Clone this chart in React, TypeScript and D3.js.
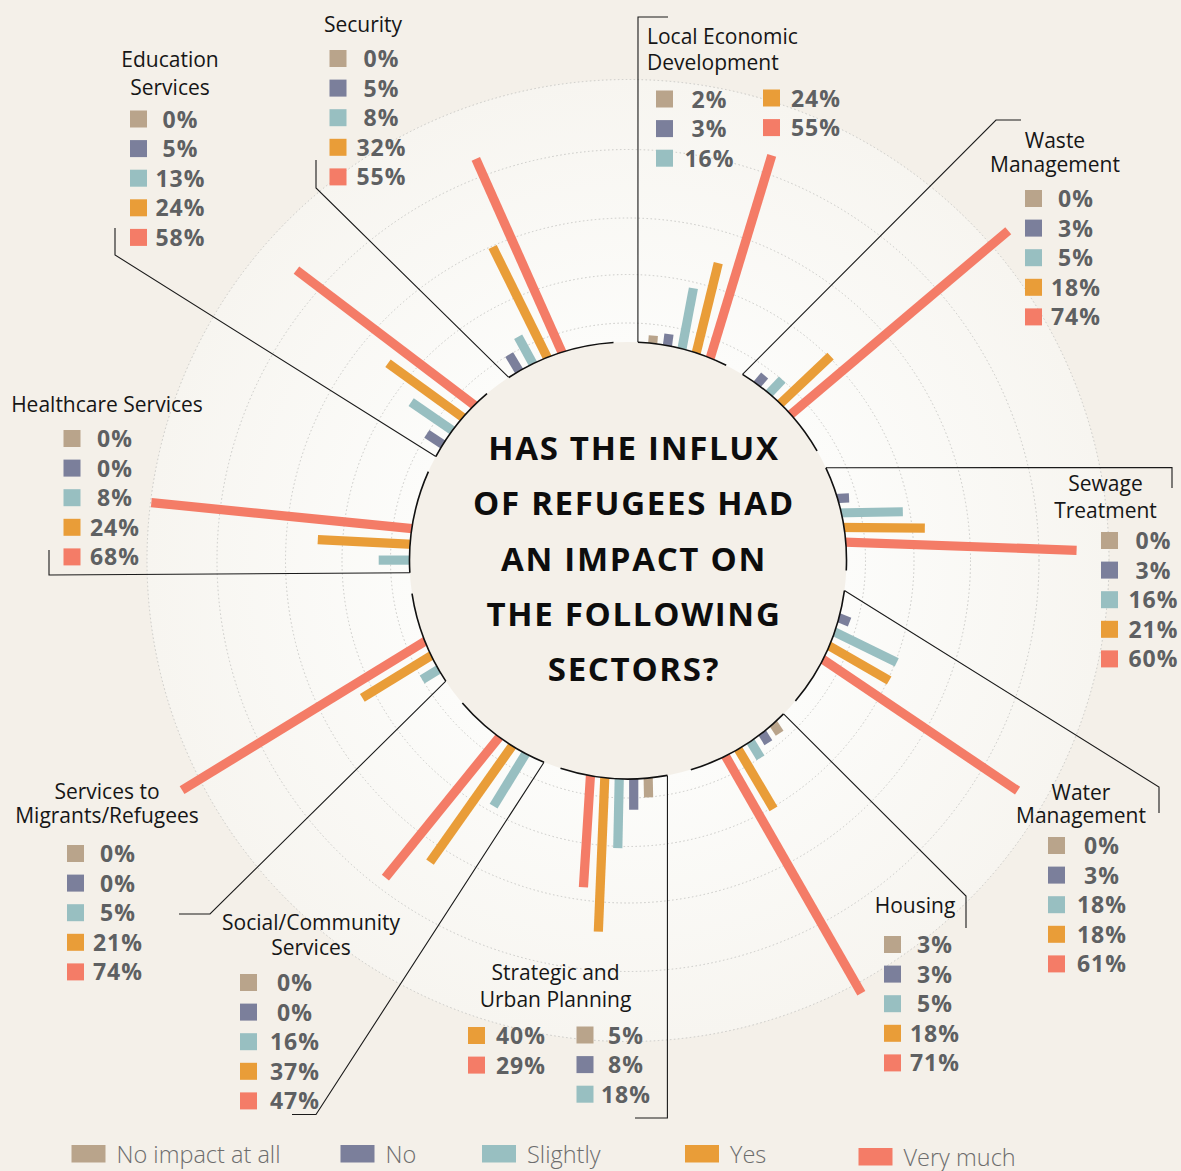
import * as d3 from 'd3'

// ---- data ----
const sectors = [
  'Local Economic Development', 'Waste Management', 'Sewage Treatment', 'Water Management',
  'Housing', 'Strategic and Urban Planning', 'Social/Community Services',
  'Services to Migrants/Refugees', 'Healthcare Services', 'Education Services', 'Security',
]
const titleLines = [
  ['Local Economic', 'Development'], ['Waste', 'Management'], ['Sewage', 'Treatment'],
  ['Water', 'Management'], ['Housing'], ['Strategic and', 'Urban Planning'],
  ['Social/Community', 'Services'], ['Services to', 'Migrants/Refugees'],
  ['Healthcare Services'], ['Education', 'Services'], ['Security'],
]
const levels = ['No impact at all', 'No', 'Slightly', 'Yes', 'Very much']
const noImpact = [2, 0, 0, 0, 3, 5, 0, 0, 0, 0, 0]
const no = [3, 3, 3, 3, 3, 8, 0, 0, 0, 5, 5]
const slightly = [16, 5, 16, 18, 5, 18, 16, 5, 8, 13, 8]
const yes = [24, 18, 21, 18, 18, 40, 37, 21, 24, 24, 32]
const veryMuch = [55, 74, 60, 61, 71, 29, 47, 74, 68, 58, 55]
const series = [noImpact, no, slightly, yes, veryMuch]
const questionLines = ['HAS THE INFLUX', 'OF REFUGEES HAD', 'AN IMPACT ON', 'THE FOLLOWING', 'SECTORS?']

const colors = ['#b9a48b', '#7b7f9b', '#98bfc1', '#e99d38', '#f47c67']

// ---- layout ----
const CX = 628
const CY = 560.5
const R = 218.5
const gridRadii = [237.5, 286, 342.5, 411, 481]
// angle (deg, clockwise from up) where the bracket leaves the circle, and where its arc stops
const leaderAngles = [2.6, 31.6, 64.9, 97.9, 134.6, 169.6, 202.6, 236.5, 266.8, 298.4, 326.9]
const arcEnds = [26.7, 59.9, 92.6, 130, 163.3, 198, 229.3, 261.3, 294, 319.8, 356.2]
const leaderOuter = [
  [[638, 17], [668, 17]],
  [[996, 120], [1021, 120]],
  [[1172, 467.5], [1172, 488]],
  [[1159, 787], [1159, 813]],
  [[966, 896], [966, 928]],
  [[667.4, 1118], [635, 1118]],
  [[316, 1114.5], [292, 1114.5]],
  [[210, 914], [179, 914]],
  [[49, 575], [49, 550]],
  [[115, 255], [115, 228]],
  [[316, 188], [316, 160]],
]
// bar base angle on the circle (start, step) and bar direction (start, step)
const barGeom = [
  [6.5, 3.9, 4.5, 3.1],
  [32.3, 3.95, 37, 3.2],
  [69.6, 3.9, 86, 1.5],
  [101.3, 3.9, 108, 4],
  [138.3, 3.8, 147, 0.8],
  [174.7, 3.8, 178.8, 1.2],
  [199.7, 4.1, 204, 3.75],
  [231.9, 4.1, 238.5, 0],
  [261.8, 4.15, 264.3, 2.85],
  [297.7, 4.4, 302, 1.3],
  [326, 4.1, 326.8, 2.3],
]
const all = [0, 1, 2, 3, 4]
const labelLayout = [
  { tx: 647, anchor: 'start', ty: [44, 70], cols: [{ sx: 656, y0: 90.5, cx: 709.5, items: [0, 1, 2] }, { sx: 763, y0: 89.5, cx: 816, items: [3, 4] }] },
  { tx: 1055, anchor: 'middle', ty: [148, 172], cols: [{ sx: 1025, y0: 190, cx: 1076, items: all }] },
  { tx: 1105.5, anchor: 'middle', ty: [491, 518], cols: [{ sx: 1101, y0: 532, cx: 1153.5, items: all }] },
  { tx: 1081, anchor: 'middle', ty: [800, 823], cols: [{ sx: 1048, y0: 837, cx: 1102, items: all }] },
  { tx: 915, anchor: 'middle', ty: [913], cols: [{ sx: 884, y0: 936, cx: 935, items: all }] },
  { tx: 555.5, anchor: 'middle', ty: [980, 1007], cols: [{ sx: 468, y0: 1027, cx: 521, items: [3, 4] }, { sx: 576.5, y0: 1026.5, cx: 626, items: [0, 1, 2] }] },
  { tx: 311, anchor: 'middle', ty: [930, 955], cols: [{ sx: 240, y0: 974, cx: 295, items: all }] },
  { tx: 107, anchor: 'middle', ty: [799, 823], cols: [{ sx: 67, y0: 845, cx: 118, items: all }] },
  { tx: 107, anchor: 'middle', ty: [411.5], cols: [{ sx: 63.5, y0: 430, cx: 115, items: all }] },
  { tx: 170, anchor: 'middle', ty: [67, 95], cols: [{ sx: 130, y0: 110.5, cx: 180.5, items: all }] },
  { tx: 363, anchor: 'middle', ty: [32], cols: [{ sx: 329.5, y0: 50, cx: 381.5, items: all }] },
]
const legendX = [71.5, 340.5, 482, 685, 858.5]
const legendY = [1145, 1145, 1145, 1145, 1148]

const W = 1181
const H = 1171
const rad = (a: number) => (a * Math.PI) / 180
const polar = (a: number, r: number): [number, number] => [CX + r * Math.sin(rad(a)), CY - r * Math.cos(rad(a))]

export default function App() {
  const len = d3.scaleLinear().domain([0, 100]).range([0, 385])
  const arc = d3.arc()
  const line = d3.line()

  return (
    <svg width={W} height={H} style={{ display: 'block', position: 'absolute', left: 0, top: 0 }}>
      <defs>
        <radialGradient id="disk" cx={CX} cy={CY} r={481} gradientUnits="userSpaceOnUse">
          <stop offset="0.45" stopColor="#fcfcfa" />
          <stop offset="1" stopColor="#f7f5f0" />
        </radialGradient>
      </defs>
      <rect width={W} height={H} fill="#f4f0e9" />
      <circle cx={CX} cy={CY} r={481} fill="url(#disk)" />
      {gridRadii.map((r, i) => (
        <circle key={i} cx={CX} cy={CY} r={r} fill="none" stroke="#c9c9c6" strokeWidth={1} strokeDasharray="1.5 2.5" />
      ))}

      {/* leader lines */}
      {sectors.map((s, i) => (
        <path key={s} d={line([polar(leaderAngles[i], R), ...leaderOuter[i]] as [number, number][]) || ''}
          fill="none" stroke="#1a1a1a" strokeWidth={1.1} />
      ))}

      {/* bars */}
      {sectors.map((s, i) =>
        series.map((vals, j) => {
          const v = vals[i]
          if (v <= 0) return null
          const [b0, bs, d0, ds] = barGeom[i]
          const [bx, by] = polar(b0 + j * bs, R)
          const L = len(v)
          return (
            <rect key={s + j} x={-4.6} y={-L} width={9.2} height={L + 8} fill={colors[j]}
              transform={`translate(${bx},${by}) rotate(${d0 + j * ds})`} />
          )
        })
      )}

      {/* inner disk */}
      <circle cx={CX} cy={CY} r={R} fill="#f4f0e9" />
      {sectors.map((s, i) => (
        <path key={s} transform={`translate(${CX},${CY})`}
          d={arc({ innerRadius: R, outerRadius: R, startAngle: rad(leaderAngles[i]), endAngle: rad(arcEnds[i]) }) || ''}
          fill="none" stroke="#111" strokeWidth={1.6} />
      ))}

      <g fontFamily="'Open Sans', sans-serif" fontWeight={700} fontSize={33} letterSpacing={1.7} fill="#0d0d0d" textAnchor="middle">
        {questionLines.map((t, i) => (
          <text key={t} x={634} y={460 + i * 55.25}>{t}</text>
        ))}
      </g>

      {/* sector labels */}
      {sectors.map((s, i) => {
        const lay = labelLayout[i]
        return (
          <g key={s}>
            {titleLines[i].map((t, k) => (
              <text key={t} x={lay.tx} y={lay.ty[k]} textAnchor={lay.anchor} fontFamily="'Open Sans', sans-serif"
                fontSize={21} letterSpacing={0} fill="#161616">{t}</text>
            ))}
            {lay.cols.map((c, ci) =>
              c.items.map((j, k) => {
                const y = c.y0 + k * 29.6
                return (
                  <g key={ci + '-' + j}>
                    <rect x={c.sx} y={y} width={17} height={17} fill={colors[j]} />
                    <text x={c.cx} y={y + 17} textAnchor="middle" fontFamily="'Open Sans', sans-serif" fontWeight={700}
                      fontSize={23} letterSpacing={1} fill="#5e6062">{series[j][i]}%</text>
                  </g>
                )
              })
            )}
          </g>
        )
      })}

      {/* legend */}
      {levels.map((l, j) => (
        <g key={l}>
          <rect x={legendX[j]} y={legendY[j]} width={34} height={17.5} fill={colors[j]} />
          <text x={legendX[j] + 45} y={legendY[j] + 17.5} fontFamily="'Open Sans', sans-serif" fontWeight={300}
            fontSize={23.5} letterSpacing={0} fill="#6d6d6d">{l}</text>
        </g>
      ))}
    </svg>
  )
}
